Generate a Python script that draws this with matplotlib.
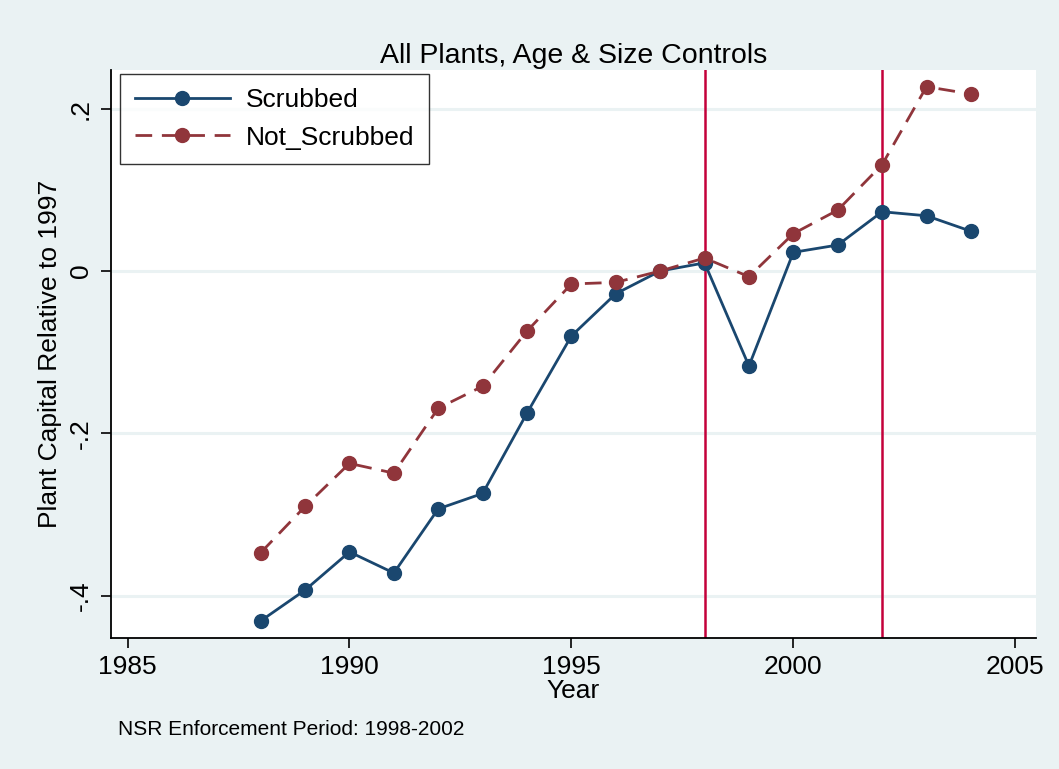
import matplotlib
matplotlib.use("Agg")
import matplotlib.pyplot as plt

years = [1988, 1989, 1990, 1991, 1992, 1993, 1994, 1995, 1996, 1997, 1998, 1999, 2000, 2001, 2002, 2003, 2004]
scrubbed = [-0.431, -0.393, -0.346, -0.372, -0.293, -0.274, -0.175, -0.080, -0.028, 0.0, 0.010, -0.117, 0.023, 0.032, 0.073, 0.068, 0.049]
not_scrubbed = [-0.347, -0.290, -0.237, -0.249, -0.169, -0.142, -0.074, -0.016, -0.014, 0.0, 0.016, -0.007, 0.046, 0.075, 0.131, 0.227, 0.218]
vlines = [1998, 2002]
xticks = [1985, 1990, 1995, 2000, 2005]
yticks = [-0.4, -0.2, 0, 0.2]
ytick_labels = ["-.4", "-.2", "0", ".2"]

plt.rcParams['font.family'] = ['Liberation Sans', 'DejaVu Sans']
bg = '#eaf2f3'
fig = plt.figure(figsize=(10.59, 7.69), dpi=100, facecolor=bg)
ax = fig.add_axes([0.1045, 0.1704, 0.8735, 0.7386])
ax.set_facecolor('white')

for y in yticks:
    ax.axhline(y, color=bg, lw=2.2, zorder=0)
for v in vlines:
    ax.axvline(v, color='#c4003a', lw=1.8, zorder=1)

blue = '#1a476f'
red = '#90353b'
ax.plot(years, scrubbed, color=blue, lw=2.0, marker='o', ms=10, label='Scrubbed', zorder=3)
ax.plot(years, not_scrubbed, color=red, lw=2.0, ls=(0, (6, 3.5)), marker='o', ms=10, label='Not_Scrubbed', zorder=3)

ax.set_xlim(1984.62, 2005.46)
ax.set_ylim(-0.452, 0.2476)
ax.set_xticks(xticks)
ax.set_yticks(yticks)
ax.set_yticklabels(ytick_labels, rotation=90, va='center')
ax.tick_params(axis='both', labelsize=19, length=7, width=1.2, color='black')
ax.tick_params(axis='x', pad=5)
ax.tick_params(axis='y', pad=6)
for s in ['top', 'right']:
    ax.spines[s].set_visible(False)
for s in ['left', 'bottom']:
    ax.spines[s].set_linewidth(1.3)

ax.set_title('All Plants, Age & Size Controls', fontsize=20.5, pad=5)
ax.set_xlabel('Year', fontsize=19, labelpad=0)
ax.set_ylabel('Plant Capital Relative to 1997', fontsize=19, labelpad=5)

leg = ax.legend(loc='upper left', bbox_to_anchor=(0.0105, 0.993), fontsize=19, frameon=True,
                fancybox=False, edgecolor='black', handlelength=3.6, borderpad=0.55, labelspacing=0.5,
                handletextpad=0.6, borderaxespad=0)
leg.get_frame().set_linewidth(1.0)

fig.text(0.111, 0.044, 'NSR Enforcement Period: 1998-2002', fontsize=15)

fig.savefig('out.png', dpi=100, facecolor=bg)
